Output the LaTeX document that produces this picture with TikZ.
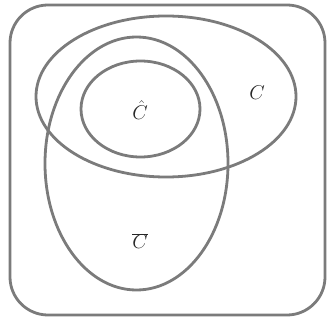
\documentclass[tikz,border=0pt]{standalone}
\usepackage{fix-cm}
\begin{document}
\begin{tikzpicture}[x=1pt,y=-1pt,
  setline/.style={draw=gray!85!black!90, line width=2.8pt},
  lbl/.style={font=\fontsize{20}{24}\selectfont, text=black!85}]
\useasboundingbox (0,0) rectangle (328,320);
\draw[setline, rounded corners=38pt] (10,5) rectangle (325,315);
\draw[setline] (166,96.5) ellipse [x radius=130, y radius=80.5];
\draw[setline] (136.5,163.5) ellipse [x radius=91.5, y radius=126.5];
\draw[setline] (140.5,109) ellipse [x radius=59.5, y radius=48];
\node[lbl] (chat) at (140,110) {$\hat{C}$};
\node[lbl] (c) at (257,93) {$C$};
\node[lbl] (cbar) at (140,241) {$\overline{C}$};
\end{tikzpicture}
\end{document}
